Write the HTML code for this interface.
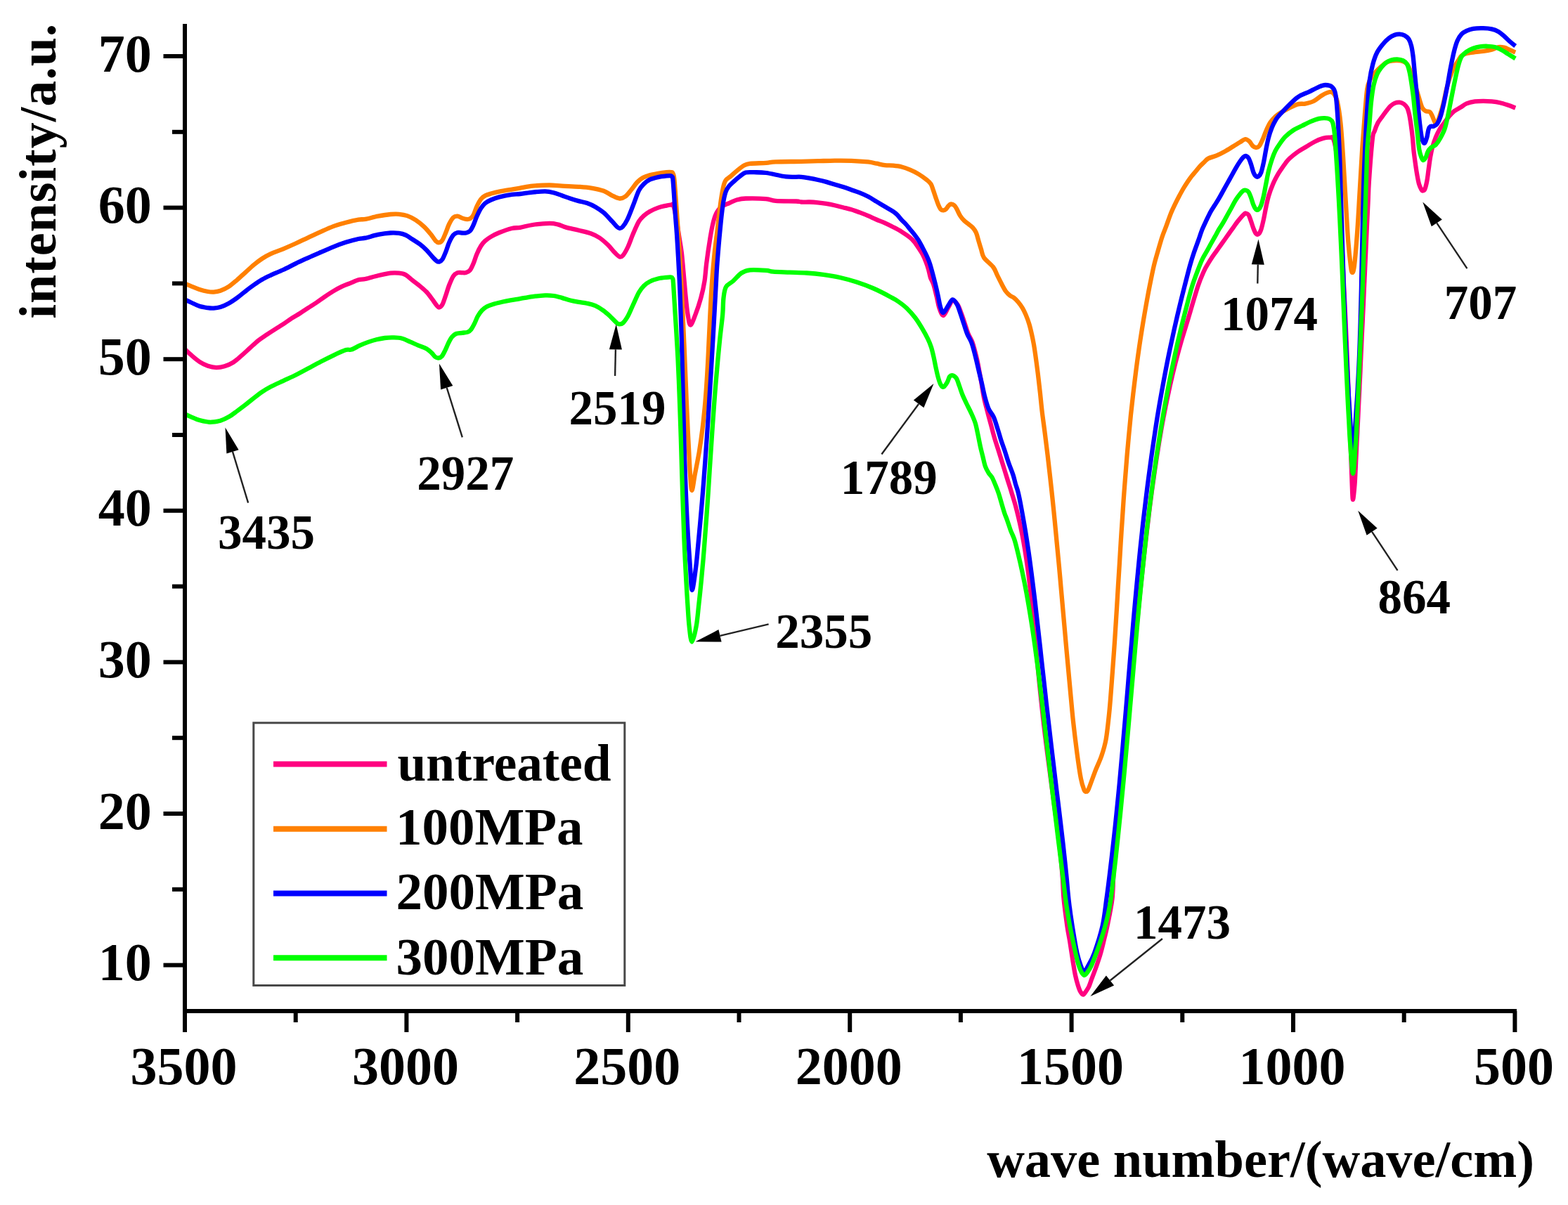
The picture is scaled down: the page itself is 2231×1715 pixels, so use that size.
<!DOCTYPE html>
<html lang="en"><head><meta charset="utf-8"><title>FTIR spectra</title>
<style>html,body{margin:0;padding:0;background:#fff}body{width:2231px;height:1715px;overflow:hidden}svg{display:block}text{font-family:"Liberation Serif","Times New Roman",serif;font-weight:bold;fill:#000}</style></head><body>
<svg xmlns="http://www.w3.org/2000/svg" width="2231" height="1715" viewBox="0 0 2231 1715">
<rect width="2231" height="1715" fill="#fff"/>
<g fill="none" stroke-width="6.3" stroke-linejoin="round" stroke-linecap="butt">
<path stroke="#ff0080" d="M263.0 496.9C264.5 498.3 268.4 502.2 271.9 505.2C275.4 508.2 279.8 512.2 283.8 514.8C287.8 517.4 291.7 519.3 295.7 520.7C299.7 522.1 303.6 523.0 307.6 523.1C311.6 523.2 315.5 522.5 319.5 521.3C323.5 520.1 327.4 518.5 331.4 516.0C335.4 513.5 339.3 509.8 343.3 506.4C347.3 503.0 351.2 499.3 355.2 495.7C359.2 492.1 363.1 488.2 367.1 485.0C371.1 481.8 375.0 479.4 379.0 476.7C383.0 474.0 387.0 471.4 391.0 468.9C395.0 466.3 398.9 464.0 402.9 461.4C406.9 458.8 410.8 455.7 414.8 453.1C418.8 450.5 422.7 448.5 426.7 446.0C430.7 443.5 434.6 440.8 438.6 438.2C442.6 435.6 446.5 433.2 450.5 430.5C454.5 427.8 458.4 424.8 462.4 422.1C466.4 419.4 470.3 416.8 474.3 414.4C478.3 412.0 482.2 409.8 486.2 407.9C490.2 406.0 494.1 404.7 498.1 403.1C502.1 401.5 506.4 399.3 510.0 398.3C513.6 397.3 515.4 398.0 520.0 397.0C524.6 396.0 531.9 393.7 537.9 392.3C543.9 390.9 550.8 389.3 555.7 388.7C560.7 388.1 564.0 388.3 567.6 388.7C571.2 389.1 573.9 389.4 577.1 391.1C580.3 392.8 583.3 396.1 586.7 398.8C590.1 401.5 594.0 404.3 597.4 407.1C600.8 409.9 603.9 412.3 606.9 415.5C609.9 418.7 612.8 423.0 615.2 426.2C617.6 429.4 619.6 432.6 621.2 434.5C622.8 436.4 623.4 437.7 624.8 437.5C626.2 437.3 627.9 436.2 629.5 433.3C631.1 430.4 632.7 424.8 634.3 420.2C635.9 415.6 637.2 410.6 639.0 406.0C640.8 401.4 643.0 395.9 645.0 392.9C647.0 389.9 649.0 388.9 651.0 388.1C653.0 387.3 654.9 388.1 656.9 388.1C658.9 388.1 660.9 388.7 662.9 388.1C664.9 387.5 667.0 386.7 668.8 384.5C670.6 382.3 672.0 378.8 673.6 375.0C675.2 371.2 676.5 366.1 678.3 361.9C680.1 357.7 682.3 353.2 684.3 350.0C686.3 346.8 687.8 345.1 690.2 342.9C692.6 340.7 695.2 338.9 698.6 336.9C702.0 334.9 705.5 333.0 710.5 331.0C715.5 329.0 723.4 326.2 728.3 325.0C733.2 323.8 735.1 324.6 740.0 323.8C744.9 323.0 750.9 321.0 757.9 320.0C764.9 319.0 775.8 318.0 781.7 317.9C787.7 317.8 789.6 318.4 793.6 319.4C797.6 320.3 800.5 322.2 805.5 323.6C810.5 325.0 817.3 326.2 823.3 327.7C829.2 329.2 836.2 330.7 841.2 332.5C846.2 334.3 849.1 335.8 853.1 338.5C857.1 341.2 861.4 345.1 865.0 348.6C868.6 352.1 871.7 356.5 874.5 359.3C877.3 362.1 879.7 364.8 881.7 365.5C883.7 366.2 884.4 365.9 886.4 363.5C888.4 361.1 891.2 356.1 893.6 351.0C896.0 345.9 898.1 339.1 900.7 333.1C903.3 327.1 906.4 319.6 909.0 315.2C911.6 310.8 913.6 309.3 916.2 306.9C918.8 304.5 921.1 302.9 924.5 301.0C927.9 299.1 932.4 297.0 936.4 295.6C940.4 294.2 945.1 293.3 948.3 292.6C951.5 291.9 953.9 291.5 955.5 291.4C957.1 291.3 956.9 288.9 958.0 292.0C959.1 295.1 960.7 302.8 962.0 310.0C963.3 317.2 964.7 326.7 966.0 335.0C967.3 343.3 968.6 349.4 969.9 360.0C971.1 370.6 972.5 388.0 973.5 398.6C974.5 409.2 974.9 415.6 975.8 423.8C976.6 432.0 977.5 441.2 978.6 447.6C979.7 454.1 980.6 462.5 982.4 462.5C984.2 462.5 987.0 454.1 989.5 447.6C992.0 441.2 995.1 431.7 997.3 423.8C999.5 415.9 1001.2 408.2 1002.5 400.0C1003.8 391.8 1003.9 385.0 1005.2 374.8C1006.5 364.6 1008.8 348.9 1010.4 339.0C1012.0 329.1 1013.5 321.4 1015.1 315.2C1016.7 309.0 1018.0 305.5 1020.0 302.0C1022.0 298.5 1024.5 296.0 1027.0 294.0C1029.5 292.0 1031.1 291.8 1034.8 290.2C1038.5 288.6 1044.6 285.6 1049.0 284.3C1053.4 283.0 1054.2 282.7 1061.0 282.5C1067.8 282.3 1082.9 282.5 1090.0 283.1C1097.1 283.7 1096.4 285.3 1103.6 285.9C1110.8 286.5 1126.8 286.2 1132.9 286.5C1139.0 286.8 1136.8 287.3 1140.0 287.5C1143.2 287.7 1147.9 287.4 1151.9 287.5C1155.9 287.6 1159.8 287.9 1163.8 288.3C1167.8 288.7 1171.7 289.2 1175.7 289.9C1179.7 290.6 1183.6 291.4 1187.6 292.3C1191.6 293.2 1195.5 294.2 1199.5 295.2C1203.5 296.2 1207.4 297.0 1211.4 298.2C1215.4 299.4 1219.3 300.9 1223.3 302.4C1227.3 303.9 1231.2 305.4 1235.2 307.1C1239.2 308.8 1243.1 310.8 1247.1 312.5C1251.1 314.2 1255.0 315.5 1259.0 317.3C1263.0 319.1 1267.0 321.1 1271.0 323.2C1275.0 325.3 1278.9 327.3 1282.9 329.8C1286.9 332.3 1291.8 335.7 1294.8 338.1C1297.8 340.5 1298.7 341.6 1300.7 344.0C1302.7 346.4 1304.7 349.4 1306.7 352.4C1308.7 355.4 1310.8 358.5 1312.6 361.9C1314.4 365.3 1316.0 369.0 1317.4 372.6C1318.8 376.2 1319.9 379.5 1321.0 383.3C1322.1 387.1 1322.7 391.6 1323.9 395.2C1325.1 398.8 1326.7 400.2 1328.2 404.8C1329.7 409.4 1331.4 417.1 1332.8 422.7C1334.2 428.3 1334.9 434.1 1336.5 438.5C1338.1 442.9 1340.1 449.2 1342.3 449.0C1344.5 448.8 1347.3 440.5 1349.5 437.0C1351.7 433.5 1353.2 428.6 1355.4 428.0C1357.6 427.4 1360.4 430.5 1362.5 433.6C1364.6 436.7 1366.3 442.1 1368.0 446.7C1369.7 451.3 1371.3 456.2 1372.9 461.0C1374.5 465.8 1375.9 470.8 1377.7 475.2C1379.5 479.6 1382.0 483.1 1383.5 487.1C1385.0 491.1 1385.8 494.6 1387.0 499.0C1388.2 503.4 1389.4 508.3 1390.5 513.3C1391.6 518.3 1392.5 523.5 1393.5 528.8C1394.5 534.1 1395.3 538.8 1396.4 545.0C1397.5 551.2 1398.6 559.2 1400.0 566.0C1401.4 572.8 1403.3 579.4 1405.0 586.0C1406.7 592.6 1408.5 599.3 1410.2 605.5C1411.9 611.7 1413.3 617.5 1415.0 623.3C1416.7 629.0 1418.4 634.0 1420.3 640.0C1422.2 646.0 1424.1 652.3 1426.2 659.0C1428.3 665.7 1430.6 673.2 1432.7 680.0C1434.8 686.8 1437.0 693.3 1439.0 700.0C1441.0 706.7 1442.8 711.5 1445.0 720.0C1447.2 728.5 1450.2 740.7 1452.4 751.1C1454.6 761.5 1456.5 771.8 1458.2 782.2C1459.9 792.6 1461.4 802.9 1462.8 813.3C1464.2 823.7 1465.3 834.0 1466.5 844.4C1467.7 854.8 1468.7 865.2 1469.7 875.6C1470.7 886.0 1471.6 896.3 1472.6 906.7C1473.6 917.1 1474.5 927.4 1475.5 937.8C1476.5 948.2 1477.5 958.5 1478.5 968.9C1479.5 979.3 1480.6 989.6 1481.7 1000.0C1482.8 1010.4 1483.9 1020.7 1485.1 1031.1C1486.3 1041.5 1487.6 1051.8 1488.9 1062.2C1490.2 1072.6 1491.6 1082.9 1493.0 1093.3C1494.4 1103.7 1495.7 1114.0 1497.1 1124.4C1498.5 1134.8 1499.9 1145.2 1501.3 1155.6C1502.7 1166.0 1504.1 1176.3 1505.4 1186.7C1506.7 1197.1 1507.9 1207.4 1509.0 1217.8C1510.1 1228.2 1511.0 1238.5 1511.8 1248.9C1512.6 1259.3 1512.5 1268.5 1513.6 1280.0C1514.7 1291.5 1517.0 1308.0 1518.4 1318.0C1519.8 1328.0 1520.9 1332.0 1522.2 1340.0C1523.5 1348.0 1524.9 1358.0 1526.2 1366.0C1527.5 1374.0 1528.7 1381.9 1530.0 1388.0C1531.3 1394.1 1532.6 1398.7 1533.8 1402.5C1535.0 1406.3 1535.8 1408.8 1537.0 1411.0C1538.2 1413.2 1539.6 1415.8 1541.0 1415.7C1542.4 1415.6 1544.1 1412.5 1545.5 1410.5C1546.9 1408.5 1548.3 1406.5 1549.5 1403.8C1550.7 1401.1 1551.2 1399.1 1552.9 1394.3C1554.7 1389.5 1557.8 1381.5 1560.0 1375.2C1562.2 1368.9 1564.4 1362.6 1566.2 1356.2C1568.0 1349.8 1569.5 1343.4 1571.0 1337.0C1572.5 1330.6 1573.6 1327.5 1575.5 1318.0C1577.4 1308.5 1581.0 1291.4 1582.4 1280.0C1583.8 1268.6 1583.5 1259.7 1584.1 1249.5C1584.7 1239.3 1585.4 1229.1 1586.1 1218.9C1586.8 1208.7 1587.7 1198.6 1588.5 1188.4C1589.3 1178.2 1590.2 1168.0 1591.1 1157.8C1592.0 1147.6 1593.0 1137.5 1593.9 1127.3C1594.9 1117.1 1595.8 1106.9 1596.8 1096.7C1597.8 1086.5 1598.8 1076.4 1599.8 1066.2C1600.8 1056.0 1601.8 1045.8 1602.8 1035.6C1603.8 1025.4 1604.9 1015.3 1605.9 1005.1C1606.9 994.9 1607.9 984.7 1608.9 974.5C1609.9 964.3 1611.0 954.2 1612.0 944.0C1613.0 933.8 1614.1 923.6 1615.1 913.4C1616.1 903.2 1617.2 893.1 1618.2 882.9C1619.2 872.7 1620.2 862.5 1621.3 852.3C1622.3 842.1 1623.4 832.0 1624.5 821.8C1625.6 811.6 1626.7 801.4 1627.8 791.2C1628.9 781.0 1630.1 770.9 1631.3 760.7C1632.5 750.5 1633.7 740.3 1634.9 730.1C1636.2 719.9 1637.4 709.8 1638.8 699.6C1640.2 689.4 1641.6 679.2 1643.1 669.0C1644.6 658.8 1646.2 648.7 1647.8 638.5C1649.4 628.3 1651.1 618.1 1652.9 607.9C1654.7 597.7 1656.7 587.6 1658.7 577.4C1660.8 567.2 1662.9 557.0 1665.2 546.8C1667.5 536.6 1669.9 526.5 1672.5 516.3C1675.1 506.1 1677.9 495.9 1680.8 485.7C1683.7 475.5 1686.2 468.2 1690.1 455.2C1694.0 442.2 1700.6 419.2 1704.4 407.6C1708.2 396.0 1710.7 391.1 1713.1 385.7C1715.5 380.3 1717.0 378.4 1719.0 375.0C1721.0 371.6 1723.0 368.5 1725.0 365.5C1727.0 362.5 1729.0 359.9 1731.0 357.1C1733.0 354.3 1734.9 351.6 1736.9 348.8C1738.9 346.0 1740.9 343.3 1742.9 340.5C1744.9 337.7 1746.8 334.9 1748.8 332.1C1750.8 329.3 1752.8 326.6 1754.8 323.8C1756.8 321.0 1758.7 318.1 1760.7 315.5C1762.7 312.9 1765.1 310.1 1766.7 308.3C1768.3 306.5 1769.3 305.6 1770.2 304.8C1771.1 304.0 1771.3 303.3 1772.3 303.5C1773.3 303.7 1775.1 303.9 1776.4 305.8C1777.7 307.7 1778.8 311.5 1780.0 314.8C1781.2 318.1 1782.4 322.5 1783.6 325.5C1784.8 328.5 1785.9 331.3 1787.1 332.6C1788.3 333.9 1789.5 334.2 1790.7 333.2C1791.9 332.2 1793.1 330.2 1794.3 326.7C1795.5 323.2 1796.7 317.8 1797.9 312.4C1799.1 307.0 1800.2 300.1 1801.4 294.5C1802.6 288.9 1803.4 284.4 1805.0 279.0C1806.6 273.6 1809.0 267.1 1811.0 262.4C1813.0 257.6 1814.9 254.1 1816.9 250.5C1818.9 246.9 1820.9 244.0 1822.9 241.0C1824.9 238.0 1826.8 235.2 1828.8 232.6C1830.8 230.0 1831.8 228.3 1834.8 225.5C1837.8 222.7 1842.7 218.8 1846.7 216.0C1850.7 213.2 1854.6 211.2 1858.6 208.8C1862.6 206.4 1866.5 203.7 1870.5 201.7C1874.5 199.7 1878.8 197.9 1882.4 196.9C1886.0 195.9 1889.4 195.5 1891.9 195.7C1894.4 195.9 1895.5 193.2 1897.3 198.1C1899.1 203.0 1901.3 215.3 1902.5 225.0C1903.7 234.7 1903.7 245.7 1904.3 256.0C1904.9 266.3 1905.4 276.7 1906.0 287.0C1906.6 297.3 1907.2 307.7 1907.7 318.0C1908.2 328.3 1908.8 338.7 1909.3 349.0C1909.8 359.3 1910.3 369.7 1910.8 380.0C1911.3 390.3 1911.8 400.7 1912.3 411.0C1912.8 421.3 1913.3 431.7 1913.8 442.0C1914.3 452.3 1914.8 462.7 1915.2 473.0C1915.7 483.3 1916.1 493.7 1916.5 504.0C1916.9 514.3 1917.4 524.7 1917.8 535.0C1918.2 545.3 1918.6 555.7 1919.0 566.0C1919.4 576.3 1919.8 586.7 1920.2 597.0C1920.6 607.3 1921.0 617.7 1921.4 628.0C1921.8 638.3 1922.2 648.7 1922.6 659.0C1923.0 669.3 1923.3 681.3 1923.7 690.0C1924.1 698.7 1924.4 711.0 1925.0 711.0C1925.6 711.0 1926.8 698.6 1927.5 690.0C1928.2 681.4 1928.6 669.4 1929.1 659.1C1929.6 648.8 1930.1 638.6 1930.6 628.3C1931.1 618.0 1931.6 607.8 1932.1 597.5C1932.6 587.2 1933.1 576.9 1933.6 566.6C1934.1 556.3 1934.6 546.1 1935.1 535.8C1935.6 525.5 1936.0 515.2 1936.5 504.9C1937.0 494.6 1937.4 484.4 1937.9 474.1C1938.4 463.8 1938.9 453.5 1939.4 443.2C1939.9 432.9 1940.3 422.7 1940.8 412.4C1941.3 402.1 1941.7 391.8 1942.2 381.5C1942.7 371.2 1943.1 361.0 1943.6 350.7C1944.1 340.4 1944.5 330.1 1945.0 319.8C1945.5 309.5 1946.0 299.3 1946.5 289.0C1947.0 278.7 1946.9 273.2 1947.9 258.1C1948.9 243.0 1951.4 210.5 1952.7 198.6C1954.0 186.7 1954.4 190.7 1955.7 186.7C1957.0 182.7 1958.7 178.2 1960.5 174.8C1962.3 171.4 1964.4 169.2 1966.4 166.4C1968.4 163.6 1970.4 160.7 1972.4 158.1C1974.4 155.5 1976.3 152.9 1978.3 151.0C1980.3 149.1 1982.1 147.7 1984.3 146.8C1986.5 145.9 1989.2 145.4 1991.4 145.6C1993.6 145.8 1995.6 146.7 1997.4 148.0C1999.2 149.3 2000.8 150.8 2002.1 153.3C2003.4 155.8 2004.2 158.9 2005.1 162.9C2006.0 166.9 2006.7 171.6 2007.5 177.1C2008.3 182.6 2009.3 190.4 2009.9 196.2C2010.5 202.0 2010.7 206.8 2011.2 212.0C2011.7 217.2 2012.3 221.5 2013.1 227.4C2013.9 233.3 2015.1 241.8 2016.1 247.6C2017.1 253.3 2017.9 258.1 2019.0 261.9C2020.1 265.7 2021.7 268.6 2022.6 270.2C2023.5 271.8 2023.6 271.6 2024.4 271.4C2025.2 271.2 2026.4 271.4 2027.4 269.0C2028.4 266.6 2029.5 261.9 2030.4 257.1C2031.3 252.4 2031.9 246.1 2032.7 240.5C2033.5 234.9 2034.2 229.0 2035.1 223.8C2036.0 218.6 2036.8 214.3 2038.1 209.5C2039.4 204.7 2041.1 199.6 2042.9 195.2C2044.7 190.8 2046.8 186.7 2048.8 183.3C2050.8 179.9 2052.6 178.0 2054.8 175.0C2057.0 172.0 2059.5 168.3 2061.9 165.5C2064.3 162.7 2066.2 160.5 2069.0 158.3C2071.8 156.1 2075.7 154.3 2078.6 152.5C2081.5 150.7 2083.4 148.8 2086.7 147.4C2090.0 146.1 2094.6 145.0 2098.6 144.4C2102.6 143.8 2106.5 143.8 2110.5 143.8C2114.5 143.8 2118.4 144.0 2122.4 144.4C2126.4 144.8 2130.3 145.3 2134.3 146.2C2138.3 147.1 2142.5 148.6 2146.2 149.8C2149.8 151.0 2154.5 153.0 2156.2 153.6"/>
<path stroke="#ff8000" d="M263.0 403.7C264.5 404.3 268.4 405.9 271.9 407.3C275.4 408.7 279.8 410.7 283.8 412.0C287.8 413.3 292.3 414.4 295.7 415.0C299.1 415.6 301.0 415.8 304.0 415.6C307.0 415.4 310.0 415.1 313.6 413.8C317.2 412.5 321.5 410.5 325.5 407.9C329.5 405.3 333.4 401.7 337.4 398.3C341.4 394.9 345.3 391.2 349.3 387.6C353.3 384.0 357.2 380.2 361.2 376.9C365.2 373.6 369.1 370.6 373.1 368.0C377.1 365.4 380.0 363.7 385.0 361.4C390.0 359.1 396.9 356.8 402.9 354.3C408.8 351.8 414.8 349.2 420.7 346.5C426.6 343.8 432.7 341.0 438.6 338.2C444.6 335.4 450.4 332.6 456.4 329.9C462.3 327.2 468.4 324.3 474.3 322.1C480.2 319.9 486.2 318.4 492.1 316.8C498.1 315.2 505.4 313.4 510.0 312.6C514.6 311.8 515.4 312.7 520.0 311.9C524.6 311.1 531.9 308.8 537.9 307.7C543.9 306.6 550.8 305.5 555.7 305.0C560.7 304.5 563.6 304.4 567.6 304.8C571.6 305.2 575.5 305.7 579.5 307.1C583.5 308.5 587.4 310.5 591.4 313.1C595.4 315.7 599.7 319.2 603.3 322.6C606.9 326.0 610.1 329.9 612.9 333.3C615.7 336.7 618.0 340.9 620.0 342.9C622.0 344.9 623.2 345.4 624.8 345.2C626.4 345.0 627.9 344.1 629.5 341.7C631.1 339.3 632.7 334.8 634.3 331.0C635.9 327.2 637.2 322.6 639.0 319.0C640.8 315.4 643.0 311.4 645.0 309.5C647.0 307.6 649.0 307.6 651.0 307.7C653.0 307.8 654.9 309.4 656.9 310.1C658.9 310.8 660.9 311.7 662.9 311.9C664.9 312.1 667.0 312.3 668.8 311.3C670.6 310.3 672.0 308.9 673.6 306.0C675.2 303.1 676.5 297.8 678.3 294.0C680.1 290.2 682.3 285.9 684.3 283.3C686.3 280.7 687.8 279.9 690.2 278.6C692.6 277.3 695.2 276.6 698.6 275.6C702.0 274.6 705.5 273.6 710.5 272.6C715.5 271.6 723.4 270.4 728.3 269.6C733.2 268.8 735.1 268.4 740.0 267.6C744.9 266.8 750.9 265.3 757.9 264.6C764.9 263.9 774.8 263.5 781.7 263.5C788.6 263.5 792.6 264.2 799.5 264.6C806.4 265.0 816.3 265.3 823.3 265.8C830.2 266.3 835.2 266.6 841.2 267.6C847.2 268.6 854.0 270.0 859.0 271.8C864.0 273.6 867.2 276.5 871.0 278.3C874.8 280.1 878.5 282.3 881.7 282.5C884.9 282.7 887.2 281.6 890.0 279.5C892.8 277.4 895.5 273.4 898.3 270.0C901.1 266.6 903.9 262.2 906.7 259.3C909.5 256.4 912.0 254.4 915.0 252.7C918.0 251.0 920.9 250.2 924.5 249.2C928.1 248.2 932.4 247.5 936.4 246.8C940.4 246.1 945.2 245.5 948.3 245.2C951.4 244.9 953.4 244.9 954.9 245.1C956.4 245.3 956.5 244.7 957.3 246.5C958.1 248.3 958.5 246.6 959.5 256.0C960.5 265.4 962.0 290.0 963.0 303.0C964.0 316.0 964.5 323.7 965.2 334.0C965.9 344.3 966.6 354.7 967.2 365.0C967.8 375.3 968.4 385.7 969.0 396.0C969.6 406.3 970.1 416.7 970.6 427.0C971.1 437.3 971.5 447.7 972.0 458.0C972.5 468.3 972.9 478.7 973.4 489.0C973.9 499.3 974.3 509.7 974.7 520.0C975.1 530.3 975.6 540.7 976.0 551.0C976.4 561.3 976.8 571.7 977.3 582.0C977.8 592.3 978.2 602.7 978.7 613.0C979.2 623.3 979.8 633.7 980.3 644.0C980.8 654.3 981.3 666.0 982.0 675.0C982.7 684.0 983.4 698.0 984.5 698.0C985.6 698.0 987.1 684.1 988.8 675.0C990.5 665.9 993.0 653.9 994.8 643.4C996.5 632.9 998.0 622.2 999.3 611.7C1000.6 601.2 1001.7 590.6 1002.7 580.1C1003.7 569.6 1004.5 559.0 1005.2 548.5C1005.9 538.0 1006.5 527.3 1007.1 516.8C1007.7 506.2 1008.1 495.8 1008.6 485.2C1009.1 474.6 1009.6 464.1 1010.1 453.5C1010.6 442.9 1011.1 432.4 1011.7 421.9C1012.3 411.4 1013.0 400.9 1013.9 390.3C1014.8 379.8 1015.7 369.2 1016.8 358.6C1017.9 348.1 1019.4 338.2 1020.7 327.0C1022.1 315.8 1023.6 301.3 1024.9 291.4C1026.2 281.5 1027.5 273.4 1028.8 267.6C1030.0 261.9 1030.6 259.7 1032.4 256.9C1034.2 254.1 1036.7 253.4 1039.5 251.0C1042.3 248.6 1045.8 245.2 1049.0 242.6C1052.2 240.0 1055.6 237.1 1058.6 235.5C1061.6 233.9 1061.7 233.5 1066.9 232.9C1072.1 232.3 1083.9 232.3 1090.0 231.9C1096.1 231.5 1095.3 230.7 1103.6 230.3C1111.9 230.0 1130.0 230.0 1140.0 229.8C1150.0 229.6 1155.9 229.4 1163.8 229.2C1171.7 229.0 1179.7 228.7 1187.6 228.6C1195.5 228.5 1203.5 228.5 1211.4 228.8C1219.3 229.1 1229.2 229.8 1235.2 230.4C1241.2 231.1 1243.1 231.9 1247.1 232.7C1251.1 233.5 1255.0 234.6 1259.0 235.1C1263.0 235.6 1267.0 235.3 1271.0 235.7C1275.0 236.1 1278.9 236.5 1282.9 237.5C1286.9 238.5 1290.8 240.0 1294.8 241.7C1298.8 243.4 1302.7 245.2 1306.7 247.6C1310.7 250.0 1315.6 253.6 1318.6 256.0C1321.6 258.4 1322.9 259.3 1324.5 261.9C1326.1 264.5 1326.9 268.0 1328.1 271.4C1329.3 274.8 1330.5 278.7 1331.7 282.1C1332.9 285.5 1334.0 289.0 1335.2 291.7C1336.4 294.4 1337.6 296.9 1338.8 298.2C1340.0 299.5 1341.2 299.5 1342.4 299.4C1343.6 299.3 1344.8 298.7 1346.0 297.6C1347.2 296.5 1348.3 294.1 1349.5 292.9C1350.7 291.7 1351.7 290.6 1353.1 290.5C1354.5 290.4 1356.5 291.1 1357.9 292.3C1359.3 293.5 1360.0 295.1 1361.4 297.6C1362.8 300.1 1364.4 304.3 1366.2 307.1C1368.0 309.9 1370.1 312.3 1372.1 314.3C1374.1 316.3 1376.1 317.4 1378.1 319.0C1380.1 320.6 1382.2 321.8 1384.0 323.8C1385.8 325.8 1387.4 327.8 1388.8 331.0C1390.2 334.2 1391.2 338.9 1392.4 342.9C1393.6 346.9 1394.7 350.8 1396.0 354.8C1397.3 358.8 1397.2 362.5 1400.0 366.7C1402.8 370.9 1409.9 375.8 1413.1 380.0C1416.3 384.2 1417.0 387.9 1419.0 391.9C1421.0 395.9 1423.0 400.0 1425.0 403.8C1427.0 407.6 1429.0 411.7 1431.0 414.5C1433.0 417.3 1434.9 418.9 1436.9 420.5C1438.9 422.1 1440.9 422.4 1442.9 424.0C1444.9 425.6 1446.8 427.6 1448.8 430.0C1450.8 432.4 1453.0 435.3 1454.8 438.3C1456.6 441.3 1457.9 444.1 1459.5 447.9C1461.1 451.7 1462.9 456.4 1464.3 461.0C1465.7 465.6 1466.8 470.4 1467.9 475.2C1469.0 479.9 1469.9 484.5 1470.8 489.5C1471.7 494.5 1472.4 499.4 1473.2 505.0C1474.0 510.6 1474.8 516.9 1475.6 522.9C1476.4 528.9 1477.1 534.5 1477.8 540.7C1478.5 546.9 1479.2 552.6 1480.0 560.0C1480.8 567.4 1481.5 575.6 1482.6 585.0C1483.7 594.4 1485.4 605.9 1486.7 616.4C1488.0 626.9 1489.3 637.4 1490.6 647.9C1491.8 658.4 1493.0 668.8 1494.2 679.3C1495.4 689.8 1496.5 700.2 1497.6 710.7C1498.7 721.2 1499.8 731.6 1500.8 742.1C1501.8 752.6 1502.8 763.1 1503.8 773.6C1504.8 784.1 1505.8 794.5 1506.8 805.0C1507.8 815.5 1508.7 825.9 1509.6 836.4C1510.5 846.9 1511.5 857.4 1512.4 867.9C1513.3 878.4 1514.3 888.8 1515.2 899.3C1516.1 909.8 1517.0 920.2 1518.0 930.7C1519.0 941.2 1519.9 951.6 1520.9 962.1C1521.9 972.6 1522.8 983.1 1523.8 993.6C1524.8 1004.1 1525.4 1012.1 1526.8 1025.0C1528.2 1037.9 1530.5 1057.0 1532.3 1070.8C1534.1 1084.5 1536.1 1098.6 1537.8 1107.5C1539.5 1116.4 1541.2 1120.8 1542.4 1124.0C1543.6 1127.2 1544.1 1126.9 1545.2 1126.7C1546.3 1126.5 1546.7 1127.8 1548.8 1123.1C1550.9 1118.4 1555.0 1106.1 1558.0 1098.3C1561.0 1090.5 1564.5 1083.9 1567.1 1076.3C1569.7 1068.7 1571.8 1062.6 1573.6 1052.5C1575.4 1042.4 1576.9 1027.0 1578.1 1015.8C1579.3 1004.6 1579.9 995.6 1580.7 985.5C1581.5 975.4 1582.2 965.2 1583.0 955.1C1583.8 945.0 1584.5 934.9 1585.2 924.8C1585.9 914.7 1586.6 904.5 1587.2 894.4C1587.8 884.3 1588.5 874.2 1589.1 864.1C1589.7 854.0 1590.3 843.8 1590.9 833.7C1591.5 823.6 1592.2 813.5 1592.8 803.4C1593.4 793.3 1594.0 783.2 1594.6 773.1C1595.2 763.0 1595.9 752.8 1596.6 742.7C1597.3 732.6 1597.9 722.5 1598.6 712.4C1599.3 702.3 1600.1 692.1 1600.9 682.0C1601.7 671.9 1602.5 661.8 1603.3 651.7C1604.1 641.6 1605.1 631.4 1606.0 621.3C1606.9 611.2 1607.9 601.1 1608.9 591.0C1610.0 580.9 1611.1 570.8 1612.3 560.7C1613.5 550.6 1614.7 540.4 1616.0 530.3C1617.3 520.2 1618.6 510.1 1620.1 500.0C1621.5 489.9 1623.1 479.7 1624.7 469.6C1626.3 459.5 1628.0 449.4 1629.8 439.3C1631.6 429.2 1633.4 419.0 1635.4 408.9C1637.4 398.8 1639.7 387.2 1641.7 378.6C1643.7 370.0 1645.6 364.1 1647.6 357.1C1649.6 350.2 1651.6 342.8 1653.6 336.9C1655.6 330.9 1657.5 326.8 1659.5 321.4C1661.5 316.0 1663.5 309.8 1665.5 304.8C1667.5 299.9 1669.4 295.9 1671.4 291.7C1673.4 287.5 1675.4 283.6 1677.4 279.8C1679.4 276.0 1681.3 272.4 1683.3 269.0C1685.3 265.6 1687.3 262.5 1689.3 259.5C1691.3 256.5 1693.2 253.8 1695.2 251.2C1697.2 248.6 1699.2 246.4 1701.2 244.0C1703.2 241.6 1705.1 239.1 1707.1 236.9C1709.1 234.7 1711.1 232.9 1713.1 231.0C1715.1 229.1 1716.0 227.2 1719.0 225.6C1722.0 224.0 1727.0 223.1 1731.0 221.4C1735.0 219.7 1738.9 217.7 1742.9 215.5C1746.9 213.3 1751.2 210.5 1754.8 208.3C1758.4 206.1 1761.5 204.1 1764.3 202.4C1767.1 200.7 1769.5 198.3 1771.7 198.1C1773.9 197.9 1775.8 199.5 1777.6 201.1C1779.4 202.7 1780.8 206.1 1782.4 207.6C1784.0 209.1 1785.5 210.0 1787.1 210.0C1788.7 210.0 1790.3 209.6 1791.9 207.6C1793.5 205.6 1795.1 201.7 1796.7 198.1C1798.3 194.5 1799.6 190.2 1801.4 186.2C1803.2 182.2 1805.2 177.7 1807.4 174.3C1809.6 170.9 1811.9 168.4 1814.5 166.0C1817.1 163.6 1817.8 162.9 1822.9 160.0C1828.0 157.1 1839.5 150.9 1845.2 148.8C1850.9 146.7 1853.1 148.4 1857.1 147.6C1861.1 146.8 1865.0 146.0 1869.0 144.0C1873.0 142.0 1877.2 137.9 1881.0 135.7C1884.8 133.5 1888.9 131.4 1891.7 131.0C1894.5 130.6 1895.8 131.2 1897.6 133.3C1899.4 135.4 1901.0 136.9 1902.6 143.8C1904.2 150.7 1906.0 161.7 1907.4 174.8C1908.8 187.9 1909.8 204.6 1911.0 222.4C1912.2 240.2 1913.3 262.1 1914.5 281.9C1915.7 301.7 1916.9 325.5 1918.1 341.4C1919.3 357.3 1920.7 369.4 1921.7 377.1C1922.7 384.9 1923.1 387.9 1924.0 387.9C1924.9 387.9 1925.9 386.8 1927.1 377.1C1928.3 367.4 1929.9 347.4 1931.2 329.5C1932.5 311.6 1933.6 289.8 1934.8 270.0C1936.0 250.2 1937.1 228.3 1938.3 210.5C1939.5 192.7 1940.8 176.8 1941.9 162.9C1943.1 149.0 1944.0 135.2 1945.2 127.1C1946.4 118.9 1947.6 117.7 1949.2 114.0C1950.8 110.3 1953.1 107.7 1955.1 105.1C1957.1 102.5 1959.1 100.6 1961.1 98.6C1963.1 96.6 1965.1 94.8 1967.0 93.2C1968.9 91.6 1970.3 90.1 1972.4 89.0C1974.5 87.9 1976.9 87.2 1979.5 86.7C1982.1 86.2 1985.1 86.0 1987.9 86.1C1990.7 86.2 1993.8 86.4 1996.2 87.3C1998.6 88.2 2000.3 89.1 2002.1 91.4C2003.9 93.7 2005.3 97.0 2006.9 101.0C2008.5 105.0 2010.1 110.2 2011.7 115.2C2013.3 120.2 2015.0 126.1 2016.4 130.7C2017.8 135.3 2018.8 138.8 2020.0 142.6C2021.2 146.4 2022.2 150.7 2023.6 153.3C2025.0 155.9 2026.5 157.1 2028.3 158.1C2030.1 159.1 2032.7 158.1 2034.3 159.3C2035.9 160.5 2036.7 162.8 2037.9 165.2C2039.1 167.6 2040.3 171.9 2041.4 173.6C2042.5 175.3 2043.3 176.6 2044.4 175.4C2045.5 174.2 2046.5 170.9 2048.0 166.4C2049.5 161.9 2051.6 155.2 2053.3 148.6C2055.0 142.0 2056.5 133.4 2058.1 127.1C2059.7 120.8 2061.1 115.7 2062.9 110.5C2064.7 105.3 2066.8 100.3 2068.8 96.2C2070.8 92.1 2073.0 88.9 2074.8 86.1C2076.6 83.3 2077.5 81.2 2079.5 79.5C2081.5 77.8 2083.5 76.9 2086.7 76.0C2089.9 75.1 2094.6 74.7 2098.6 74.2C2102.6 73.7 2106.5 73.6 2110.5 73.0C2114.5 72.4 2118.8 71.6 2122.4 70.6C2126.0 69.6 2128.9 67.5 2131.9 67.0C2134.9 66.5 2137.4 66.9 2140.2 67.6C2143.0 68.3 2145.9 70.1 2148.6 71.2C2151.3 72.3 2154.9 73.9 2156.2 74.4"/>
<path stroke="#0000ff" d="M263.0 426.3C264.5 427.0 268.4 428.9 271.9 430.5C275.4 432.1 279.8 434.5 283.8 435.8C287.8 437.1 292.3 437.7 295.7 438.2C299.1 438.7 301.0 438.8 304.0 438.6C307.0 438.4 310.0 438.1 313.6 437.0C317.2 435.9 321.5 433.9 325.5 431.7C329.5 429.5 333.4 426.8 337.4 423.9C341.4 421.0 345.3 417.5 349.3 414.4C353.3 411.3 357.2 408.3 361.2 405.5C365.2 402.7 369.1 400.0 373.1 397.7C377.1 395.4 380.0 394.1 385.0 391.8C390.0 389.5 396.9 386.8 402.9 384.0C408.8 381.2 414.8 378.0 420.7 375.1C426.6 372.2 432.7 369.5 438.6 366.8C444.6 364.1 450.4 361.6 456.4 359.0C462.3 356.4 468.4 353.7 474.3 351.3C480.2 348.9 486.2 346.7 492.1 344.8C498.1 342.9 505.4 341.0 510.0 340.0C514.6 339.0 515.4 339.7 520.0 338.7C524.6 337.7 531.9 335.1 537.9 333.9C543.9 332.7 550.8 331.8 555.7 331.5C560.7 331.2 564.0 331.4 567.6 331.9C571.2 332.4 573.9 333.1 577.1 334.5C580.3 335.9 583.3 338.3 586.7 340.5C590.1 342.7 594.0 345.0 597.4 347.6C600.8 350.2 603.9 353.0 606.9 356.0C609.9 359.0 612.8 362.9 615.2 365.5C617.6 368.1 619.6 370.2 621.2 371.4C622.8 372.6 623.4 373.0 624.8 372.6C626.2 372.2 627.9 371.4 629.5 369.0C631.1 366.6 632.7 362.3 634.3 358.3C635.9 354.3 637.2 349.2 639.0 345.2C640.8 341.2 643.0 336.9 645.0 334.5C647.0 332.1 649.0 331.5 651.0 331.0C653.0 330.5 654.9 331.4 656.9 331.5C658.9 331.6 660.9 332.0 662.9 331.5C664.9 331.0 667.0 330.5 668.8 328.6C670.6 326.7 672.0 323.6 673.6 320.2C675.2 316.8 676.5 312.3 678.3 308.3C680.1 304.3 682.3 299.6 684.3 296.4C686.3 293.2 687.8 291.3 690.2 289.3C692.6 287.3 695.2 286.0 698.6 284.5C702.0 283.0 705.5 281.7 710.5 280.4C715.5 279.1 723.4 277.5 728.3 276.8C733.2 276.1 735.1 276.5 740.0 276.0C744.9 275.5 751.9 274.2 757.9 273.6C763.9 273.0 770.8 272.3 775.7 272.4C780.7 272.5 783.6 273.2 787.6 274.2C791.6 275.2 795.5 276.9 799.5 278.3C803.5 279.7 807.4 281.2 811.4 282.5C815.4 283.8 819.3 285.0 823.3 286.1C827.3 287.2 831.2 287.6 835.2 289.0C839.2 290.4 843.1 292.1 847.1 294.4C851.1 296.7 855.0 299.2 859.0 302.7C863.0 306.2 867.8 311.8 871.0 315.2C874.2 318.6 876.3 321.4 878.1 323.0C879.9 324.6 880.4 325.0 881.7 325.0C883.0 325.0 884.0 325.0 885.8 323.0C887.6 321.0 889.9 318.0 892.4 312.9C894.9 307.8 897.9 299.6 900.7 292.6C903.5 285.7 906.4 276.4 909.0 271.2C911.6 266.0 913.6 264.3 916.2 261.7C918.8 259.1 921.1 257.3 924.5 255.7C927.9 254.1 932.4 253.0 936.4 252.1C940.4 251.2 945.3 250.7 948.3 250.4C951.3 250.1 953.0 250.0 954.3 250.2C955.6 250.4 955.7 250.6 956.2 251.8C956.8 253.0 956.9 248.9 957.6 257.5C958.4 266.1 959.8 290.4 960.7 303.3C961.6 316.2 962.4 324.3 963.1 334.8C963.8 345.3 964.4 355.9 965.0 366.4C965.6 376.9 966.2 387.4 966.7 397.9C967.2 408.4 967.6 419.0 968.0 429.5C968.4 440.0 968.8 450.5 969.1 461.0C969.5 471.5 969.8 482.1 970.1 492.6C970.4 503.1 970.6 513.6 970.9 524.1C971.1 534.6 971.4 545.1 971.6 555.6C971.9 566.1 972.1 576.7 972.4 587.2C972.7 597.7 972.9 608.2 973.2 618.7C973.5 629.2 973.7 639.8 974.0 650.3C974.3 660.8 974.7 671.3 975.1 681.8C975.5 692.3 975.9 702.9 976.4 713.4C976.9 723.9 977.3 734.4 977.9 744.9C978.5 755.4 979.1 766.0 979.8 776.5C980.5 787.0 981.2 797.5 982.0 808.0C982.8 818.5 983.4 839.9 984.8 839.8C986.1 839.7 988.7 818.1 990.1 807.6C991.5 797.1 992.2 787.0 993.2 776.7C994.2 766.4 995.2 756.1 996.1 745.8C997.0 735.5 997.9 725.2 998.8 714.9C999.7 704.6 1000.5 694.2 1001.3 683.9C1002.1 673.6 1002.9 663.3 1003.6 653.0C1004.4 642.7 1005.1 632.4 1005.8 622.1C1006.5 611.8 1007.2 601.5 1007.9 591.2C1008.6 580.9 1009.2 570.6 1009.8 560.3C1010.4 550.0 1011.1 539.7 1011.7 529.4C1012.3 519.1 1012.9 508.8 1013.5 498.5C1014.1 488.2 1014.7 477.8 1015.3 467.5C1015.9 457.2 1016.4 446.9 1017.0 436.6C1017.6 426.3 1018.1 416.0 1018.7 405.7C1019.3 395.4 1019.5 387.9 1020.5 374.8C1021.5 361.7 1023.2 341.0 1024.6 327.1C1025.9 313.2 1027.3 300.3 1028.6 291.4C1029.9 282.5 1031.0 278.0 1032.4 273.6C1033.8 269.2 1035.1 267.8 1037.1 265.2C1039.1 262.6 1041.7 260.5 1044.3 258.1C1046.9 255.7 1049.8 253.1 1052.6 251.0C1055.4 248.9 1057.6 246.6 1061.0 245.6C1064.4 244.6 1068.1 245.1 1072.9 245.2C1077.7 245.3 1082.5 245.0 1090.0 246.0C1097.5 247.0 1109.9 250.4 1118.2 251.4C1126.5 252.4 1134.4 251.4 1140.0 251.8C1145.6 252.2 1147.9 252.9 1151.9 253.6C1155.9 254.3 1159.8 255.1 1163.8 256.0C1167.8 256.9 1171.7 257.8 1175.7 258.9C1179.7 260.0 1183.6 261.3 1187.6 262.5C1191.6 263.7 1195.5 264.8 1199.5 266.1C1203.5 267.4 1207.4 268.8 1211.4 270.2C1215.4 271.6 1219.3 272.8 1223.3 274.4C1227.3 276.0 1231.2 277.7 1235.2 279.8C1239.2 281.9 1243.1 284.5 1247.1 286.9C1251.1 289.3 1255.0 291.6 1259.0 294.0C1263.0 296.4 1268.0 299.2 1271.0 301.2C1274.0 303.2 1274.9 304.0 1276.9 306.0C1278.9 308.0 1280.9 310.9 1282.9 313.1C1284.9 315.3 1286.8 316.8 1288.8 319.0C1290.8 321.2 1292.8 323.8 1294.8 326.2C1296.8 328.6 1298.7 330.7 1300.7 333.3C1302.7 335.9 1304.7 338.5 1306.7 341.7C1308.7 344.9 1310.6 348.6 1312.6 352.4C1314.6 356.2 1316.8 360.3 1318.6 364.3C1320.4 368.3 1321.3 369.6 1323.3 376.2C1325.3 382.8 1328.8 396.2 1330.7 403.8C1332.6 411.4 1333.6 416.1 1334.8 421.7C1336.0 427.2 1336.8 433.2 1338.1 437.1C1339.3 441.0 1340.3 445.5 1342.3 444.9C1344.3 444.3 1347.8 436.7 1350.0 433.6C1352.2 430.5 1353.4 426.4 1355.4 426.4C1357.4 426.4 1360.0 430.2 1361.9 433.6C1363.8 437.0 1365.1 442.1 1366.7 446.7C1368.3 451.3 1369.8 456.2 1371.4 461.0C1373.0 465.8 1374.4 470.8 1376.2 475.2C1378.0 479.6 1380.5 483.1 1382.1 487.1C1383.7 491.1 1384.5 494.6 1385.7 499.0C1386.9 503.4 1388.1 508.3 1389.3 513.3C1390.5 518.3 1391.7 523.8 1392.9 528.8C1394.1 533.8 1395.1 537.3 1396.4 543.1C1397.8 548.9 1399.3 557.4 1401.0 563.8C1402.7 570.2 1404.4 576.5 1406.5 581.5C1408.6 586.5 1411.6 588.6 1413.8 593.6C1416.0 598.6 1418.0 605.8 1419.8 611.4C1421.6 617.0 1422.9 622.1 1424.5 627.0C1426.1 631.9 1427.6 635.7 1429.4 641.0C1431.2 646.3 1433.2 653.2 1435.2 659.0C1437.2 664.8 1439.9 671.0 1441.5 676.0C1443.1 681.0 1443.8 684.8 1445.0 689.0C1446.2 693.2 1447.4 695.5 1448.7 701.0C1450.0 706.5 1451.4 713.3 1453.0 722.0C1454.6 730.7 1456.8 742.7 1458.5 753.0C1460.2 763.3 1461.8 773.7 1463.3 784.0C1464.8 794.3 1466.2 804.7 1467.5 815.0C1468.8 825.3 1470.2 835.7 1471.4 846.0C1472.7 856.3 1473.8 866.7 1475.0 877.0C1476.2 887.3 1477.3 897.7 1478.5 908.0C1479.7 918.3 1480.8 928.7 1481.9 939.0C1483.1 949.3 1484.2 959.7 1485.4 970.0C1486.6 980.3 1487.6 990.7 1488.8 1001.0C1490.0 1011.3 1491.2 1021.7 1492.4 1032.0C1493.6 1042.3 1494.8 1052.7 1496.0 1063.0C1497.2 1073.3 1498.5 1083.7 1499.7 1094.0C1500.9 1104.3 1502.2 1114.7 1503.4 1125.0C1504.7 1135.3 1506.0 1145.7 1507.2 1156.0C1508.5 1166.3 1509.7 1176.7 1510.9 1187.0C1512.1 1197.3 1513.3 1207.7 1514.4 1218.0C1515.5 1228.3 1516.6 1238.7 1517.6 1249.0C1518.6 1259.3 1519.2 1268.5 1520.5 1280.0C1521.8 1291.5 1523.7 1305.3 1525.7 1318.0C1527.7 1330.7 1530.4 1346.7 1532.4 1356.2C1534.5 1365.7 1536.3 1370.5 1538.0 1375.0C1539.7 1379.5 1540.7 1383.0 1542.4 1383.0C1544.1 1383.0 1545.5 1379.5 1548.0 1375.0C1550.5 1370.5 1553.7 1365.7 1557.1 1356.2C1560.5 1346.7 1565.7 1330.7 1568.6 1318.0C1571.5 1305.3 1572.7 1291.3 1574.3 1280.0C1575.9 1268.7 1577.0 1259.9 1578.2 1249.9C1579.5 1239.9 1580.6 1229.8 1581.8 1219.8C1583.0 1209.8 1584.1 1199.8 1585.2 1189.8C1586.3 1179.8 1587.4 1169.7 1588.4 1159.7C1589.4 1149.7 1590.4 1139.6 1591.4 1129.6C1592.4 1119.6 1593.3 1109.5 1594.2 1099.5C1595.1 1089.5 1596.0 1079.4 1596.9 1069.4C1597.8 1059.4 1598.6 1049.3 1599.5 1039.3C1600.4 1029.3 1601.2 1019.3 1602.1 1009.3C1602.9 999.3 1603.8 989.2 1604.6 979.2C1605.4 969.2 1606.2 959.1 1607.1 949.1C1607.9 939.1 1608.8 929.0 1609.7 919.0C1610.6 909.0 1611.3 898.9 1612.2 888.9C1613.1 878.9 1614.0 868.8 1614.9 858.8C1615.8 848.8 1616.8 838.8 1617.7 828.8C1618.7 818.8 1619.6 808.7 1620.6 798.7C1621.6 788.7 1622.6 778.6 1623.7 768.6C1624.8 758.6 1625.8 748.5 1627.0 738.5C1628.2 728.5 1629.4 718.4 1630.6 708.4C1631.8 698.4 1633.1 688.3 1634.4 678.3C1635.7 668.3 1637.1 658.3 1638.5 648.3C1639.9 638.3 1641.4 628.2 1642.9 618.2C1644.4 608.2 1645.9 598.1 1647.6 588.1C1649.2 578.1 1651.0 568.0 1652.8 558.0C1654.6 548.0 1656.5 537.9 1658.4 527.9C1660.3 517.9 1662.3 507.8 1664.4 497.8C1666.5 487.8 1668.7 477.8 1670.9 467.8C1673.2 457.8 1675.5 447.7 1677.9 437.7C1680.3 427.7 1682.9 417.5 1685.4 407.6C1687.9 397.8 1690.7 386.6 1692.9 378.6C1695.1 370.6 1696.8 365.4 1698.8 359.5C1700.8 353.6 1702.8 348.4 1704.8 342.9C1706.8 337.3 1708.7 331.2 1710.7 326.2C1712.7 321.2 1714.7 317.3 1716.7 313.1C1718.7 308.9 1720.6 304.8 1722.6 301.2C1724.6 297.6 1726.6 294.9 1728.6 291.7C1730.6 288.5 1732.5 285.5 1734.5 282.1C1736.5 278.7 1738.5 275.0 1740.5 271.4C1742.5 267.8 1744.4 264.3 1746.4 260.7C1748.4 257.1 1750.4 253.6 1752.4 250.0C1754.4 246.4 1756.3 242.7 1758.3 239.3C1760.3 235.9 1762.5 232.4 1764.3 229.8C1766.1 227.2 1767.7 225.1 1769.0 223.8C1770.3 222.5 1771.1 221.7 1772.3 221.9C1773.5 222.1 1775.1 222.9 1776.4 224.9C1777.7 226.9 1778.8 230.3 1780.0 233.8C1781.2 237.3 1782.4 242.8 1783.6 245.7C1784.8 248.6 1785.9 250.2 1787.1 251.1C1788.3 252.0 1789.5 252.0 1790.7 251.1C1791.9 250.2 1793.1 249.0 1794.3 245.7C1795.5 242.4 1796.7 236.9 1797.9 231.4C1799.1 225.9 1800.2 218.4 1801.4 212.4C1802.6 206.4 1803.6 200.9 1805.0 195.7C1806.4 190.5 1808.2 185.4 1809.8 181.4C1811.4 177.4 1812.7 174.9 1814.5 171.9C1816.3 168.9 1815.4 169.0 1820.5 163.6C1825.6 158.2 1838.3 144.7 1845.2 139.3C1852.1 133.9 1856.7 133.6 1861.9 131.0C1867.1 128.4 1872.2 125.5 1876.2 123.8C1880.2 122.1 1882.5 121.0 1885.7 121.0C1888.9 121.0 1892.7 121.3 1895.2 123.8C1897.7 126.2 1899.1 127.8 1900.5 135.7C1901.9 143.6 1902.7 157.5 1903.6 171.4C1904.5 185.3 1905.4 206.1 1906.0 219.0C1906.6 231.9 1906.7 239.1 1907.0 249.1C1907.3 259.1 1907.6 269.2 1907.9 279.2C1908.2 289.2 1908.5 299.2 1908.8 309.2C1909.1 319.2 1909.4 329.3 1909.7 339.3C1910.0 349.3 1910.4 359.4 1910.7 369.4C1911.0 379.4 1911.3 389.5 1911.6 399.5C1911.9 409.5 1912.3 419.6 1912.7 429.6C1913.1 439.6 1913.4 449.7 1913.8 459.7C1914.2 469.7 1914.6 479.8 1915.1 489.8C1915.6 499.8 1916.1 509.8 1916.6 519.8C1917.1 529.8 1917.6 539.9 1918.2 549.9C1918.8 559.9 1918.9 564.8 1920.0 580.0C1921.1 595.2 1923.3 641.0 1925.0 641.0C1926.7 641.0 1928.8 595.3 1930.0 580.0C1931.2 564.7 1931.3 559.6 1931.9 549.4C1932.5 539.2 1933.0 528.9 1933.5 518.7C1934.0 508.5 1934.3 498.3 1934.7 488.1C1935.1 477.9 1935.4 467.6 1935.7 457.4C1936.0 447.2 1936.2 437.0 1936.5 426.8C1936.8 416.6 1937.0 406.3 1937.2 396.1C1937.4 385.9 1937.6 375.7 1937.8 365.5C1938.0 355.3 1938.3 345.1 1938.5 334.9C1938.7 324.7 1938.9 314.4 1939.1 304.2C1939.3 294.0 1939.6 283.8 1939.9 273.6C1940.2 263.4 1940.5 253.1 1940.9 242.9C1941.3 232.7 1941.7 222.5 1942.2 212.3C1942.7 202.1 1943.1 191.8 1943.7 181.6C1944.3 171.4 1944.8 162.1 1945.6 151.0C1946.4 139.9 1947.3 125.1 1948.6 115.2C1949.9 105.3 1951.5 98.1 1953.3 91.4C1955.1 84.7 1956.9 79.5 1959.3 74.8C1961.7 70.0 1964.8 66.3 1967.6 62.9C1970.4 59.5 1973.2 56.7 1976.0 54.5C1978.8 52.3 1981.7 50.8 1984.3 49.8C1986.9 48.8 1989.0 48.5 1991.4 48.6C1993.8 48.7 1996.4 49.2 1998.6 50.4C2000.8 51.6 2002.9 53.2 2004.5 55.7C2006.1 58.2 2007.1 61.2 2008.1 65.2C2009.1 69.2 2009.8 74.1 2010.5 79.5C2011.2 84.9 2011.7 91.5 2012.3 97.4C2012.9 103.4 2013.4 109.2 2014.0 115.2C2014.6 121.2 2015.2 127.1 2015.8 133.1C2016.4 139.1 2016.9 144.1 2017.6 151.0C2018.3 157.9 2019.1 167.3 2020.0 174.8C2020.9 182.3 2021.9 191.3 2023.0 196.2C2024.1 201.0 2025.3 203.9 2026.5 203.9C2027.7 203.9 2029.1 199.5 2030.1 196.2C2031.1 192.9 2031.7 187.0 2032.5 184.3C2033.3 181.6 2033.6 180.9 2034.9 180.1C2036.2 179.3 2038.5 180.2 2040.2 179.5C2041.9 178.8 2043.4 178.4 2045.0 176.0C2046.6 173.6 2048.2 170.2 2049.8 165.2C2051.4 160.2 2052.9 153.3 2054.5 146.2C2056.1 139.1 2057.7 130.7 2059.3 122.4C2060.9 114.1 2062.4 104.3 2064.0 96.2C2065.6 88.1 2067.2 79.9 2068.8 73.6C2070.4 67.2 2071.8 62.3 2073.6 58.1C2075.4 53.9 2077.3 51.0 2079.5 48.6C2081.7 46.2 2083.9 45.1 2086.7 43.8C2089.5 42.5 2092.2 41.4 2096.2 40.8C2100.2 40.2 2106.1 40.1 2110.5 40.2C2114.9 40.3 2118.8 40.6 2122.4 41.4C2126.0 42.2 2128.9 43.3 2131.9 45.0C2134.9 46.7 2137.4 49.1 2140.2 51.5C2143.0 53.9 2145.9 57.0 2148.6 59.3C2151.3 61.6 2154.9 64.5 2156.2 65.5"/>
<path stroke="#00ff00" d="M263.0 589.2C264.5 589.9 268.4 591.8 271.9 593.3C275.4 594.8 279.8 596.9 283.8 598.1C287.8 599.3 292.7 600.1 295.7 600.5C298.7 600.9 298.7 601.0 301.7 600.7C304.7 600.4 309.6 599.9 313.6 598.7C317.6 597.5 321.5 595.6 325.5 593.3C329.5 591.0 333.4 587.9 337.4 585.0C341.4 582.1 345.3 579.2 349.3 576.1C353.3 573.0 357.2 569.6 361.2 566.5C365.2 563.4 369.1 560.3 373.1 557.6C377.1 554.9 380.0 553.1 385.0 550.5C390.0 547.9 396.9 544.9 402.9 542.1C408.8 539.3 414.8 536.8 420.7 533.8C426.6 530.8 432.7 527.5 438.6 524.3C444.6 521.1 450.4 517.9 456.4 514.8C462.3 511.7 468.4 508.6 474.3 505.8C480.2 503.0 487.8 499.5 492.1 498.1C496.4 496.7 496.7 498.7 500.0 497.6C503.3 496.5 507.9 493.5 511.9 491.7C515.9 489.9 519.8 488.3 523.8 486.9C527.8 485.5 531.7 484.3 535.7 483.3C539.7 482.3 543.6 481.5 547.6 481.0C551.6 480.5 555.5 480.3 559.5 480.4C563.5 480.5 567.4 480.5 571.4 481.5C575.4 482.5 579.3 484.6 583.3 486.3C587.3 488.0 591.2 490.0 595.2 491.7C599.2 493.4 603.9 494.6 607.1 496.4C610.3 498.2 612.3 500.5 614.3 502.4C616.3 504.3 617.4 506.5 619.0 507.7C620.6 508.9 622.2 509.6 623.8 509.5C625.4 509.4 627.0 508.9 628.6 507.1C630.2 505.3 631.7 502.0 633.3 498.8C634.9 495.6 636.5 491.3 638.1 488.1C639.7 484.9 641.1 482.0 642.9 479.8C644.7 477.6 646.4 476.0 648.8 475.0C651.2 474.0 654.3 474.2 657.1 473.8C659.9 473.4 663.3 473.4 665.5 472.6C667.7 471.8 668.6 471.0 670.2 469.0C671.8 467.0 673.4 463.9 675.0 460.7C676.6 457.5 678.0 453.2 679.8 450.0C681.6 446.8 683.5 444.0 685.7 441.7C687.9 439.4 690.1 437.8 692.9 436.3C695.7 434.8 698.8 433.8 702.4 432.7C706.0 431.6 710.3 430.7 714.3 429.8C718.3 428.9 721.9 428.2 726.2 427.4C730.5 426.6 734.7 426.0 740.0 425.1C745.3 424.2 751.9 422.9 757.9 422.1C763.9 421.3 770.8 420.6 775.7 420.4C780.7 420.2 783.6 420.4 787.6 421.0C791.6 421.6 795.5 422.8 799.5 423.9C803.5 425.0 807.4 426.5 811.4 427.5C815.4 428.5 819.3 429.2 823.3 429.9C827.3 430.6 831.2 430.8 835.2 431.7C839.2 432.6 843.1 433.4 847.1 435.2C851.1 437.0 855.4 439.8 859.0 442.4C862.6 445.0 865.6 447.9 868.6 450.7C871.6 453.5 874.8 457.2 876.9 459.0C879.0 460.8 879.5 461.3 881.1 461.4C882.7 461.5 884.3 461.6 886.4 459.6C888.5 457.6 891.2 453.8 893.6 449.5C896.0 445.2 898.1 439.6 900.7 434.0C903.3 428.4 906.4 420.8 909.0 416.2C911.6 411.6 913.6 409.3 916.2 406.7C918.8 404.1 921.1 402.4 924.5 400.7C927.9 399.0 932.4 397.5 936.4 396.5C940.4 395.5 945.2 395.1 948.3 394.8C951.4 394.5 953.5 394.3 954.9 394.5C956.3 394.7 956.3 394.6 956.8 396.0C957.3 397.4 957.4 394.4 958.0 403.0C958.6 411.6 959.9 434.9 960.7 447.6C961.5 460.3 962.1 468.8 962.7 479.3C963.3 489.9 964.0 500.3 964.5 510.9C965.0 521.4 965.5 532.0 965.9 542.6C966.3 553.2 966.7 563.7 967.1 574.3C967.5 584.9 967.9 595.5 968.2 606.0C968.6 616.5 968.9 627.1 969.2 637.6C969.5 648.1 969.8 658.7 970.1 669.3C970.4 679.9 970.8 690.5 971.1 701.0C971.5 711.5 971.8 722.1 972.2 732.6C972.6 743.1 972.9 753.7 973.3 764.3C973.7 774.9 974.2 785.4 974.7 796.0C975.2 806.6 975.8 817.2 976.4 827.7C977.0 838.2 977.6 848.8 978.3 859.3C979.0 869.8 979.6 882.0 980.6 891.0C981.6 900.0 982.8 913.6 984.5 913.6C986.2 913.6 989.1 900.0 990.7 891.0C992.4 882.0 993.2 869.8 994.4 859.3C995.6 848.8 996.7 838.2 997.7 827.7C998.7 817.2 999.7 806.6 1000.6 796.0C1001.5 785.4 1002.3 774.9 1003.1 764.3C1003.9 753.7 1004.7 743.1 1005.5 732.6C1006.3 722.1 1007.0 711.5 1007.7 701.0C1008.4 690.5 1009.0 679.9 1009.7 669.3C1010.4 658.7 1011.1 648.1 1011.8 637.6C1012.5 627.1 1013.2 616.5 1013.9 606.0C1014.6 595.5 1015.4 584.9 1016.2 574.3C1017.0 563.7 1017.8 553.2 1018.7 542.6C1019.6 532.0 1020.5 521.4 1021.5 510.9C1022.5 500.3 1023.5 489.9 1024.6 479.3C1025.7 468.8 1027.4 456.8 1028.2 447.6C1029.0 438.4 1028.7 430.6 1029.5 424.0C1030.3 417.4 1030.7 412.2 1033.0 408.2C1035.3 404.2 1039.4 403.3 1043.1 400.0C1046.8 396.7 1051.0 391.1 1055.0 388.5C1059.0 385.9 1061.1 384.9 1066.9 384.3C1072.7 383.7 1084.5 384.5 1090.0 384.9C1095.5 385.3 1094.4 386.2 1100.0 386.7C1105.6 387.1 1115.9 387.3 1123.8 387.6C1131.7 387.9 1139.7 388.0 1147.6 388.5C1155.5 389.0 1163.5 389.7 1171.4 390.8C1179.3 391.9 1187.3 393.2 1195.2 395.0C1203.1 396.8 1211.0 398.9 1219.0 401.5C1227.0 404.1 1235.0 407.0 1242.9 410.5C1250.9 414.0 1260.8 419.2 1266.7 422.4C1272.7 425.6 1274.6 426.7 1278.6 429.5C1282.6 432.3 1286.6 435.2 1290.5 439.0C1294.4 442.8 1298.4 447.3 1302.0 452.0C1305.6 456.7 1308.9 462.1 1311.9 467.2C1314.9 472.3 1318.0 477.9 1320.2 482.4C1322.4 486.9 1323.6 489.9 1325.0 494.3C1326.4 498.7 1327.5 503.8 1328.6 508.6C1329.7 513.4 1330.5 518.3 1331.5 522.9C1332.5 527.5 1333.4 532.0 1334.5 536.0C1335.6 540.0 1336.8 544.2 1338.1 546.7C1339.4 549.2 1340.7 551.2 1342.3 550.8C1343.9 550.4 1346.1 546.8 1347.6 544.3C1349.1 541.8 1349.9 537.7 1351.2 536.0C1352.5 534.3 1353.8 533.8 1355.4 534.2C1357.0 534.6 1359.1 535.8 1360.7 538.3C1362.3 540.8 1363.4 545.0 1364.9 549.0C1366.4 553.0 1367.8 557.8 1369.5 562.0C1371.2 566.2 1373.0 569.7 1375.0 574.0C1377.0 578.3 1379.6 583.0 1381.7 587.6C1383.8 592.2 1386.0 596.9 1387.6 601.9C1389.2 606.9 1390.0 611.8 1391.2 617.4C1392.4 623.0 1393.6 629.9 1394.8 635.2C1396.0 640.6 1397.1 644.7 1398.3 649.5C1399.5 654.3 1400.5 659.8 1401.9 663.8C1403.3 667.8 1405.1 670.7 1406.7 673.3C1408.3 675.9 1409.8 676.5 1411.4 679.3C1413.0 682.1 1414.6 686.2 1416.2 690.0C1417.8 693.8 1419.2 697.2 1420.8 702.0C1422.4 706.8 1424.3 713.9 1425.7 718.6C1427.1 723.4 1428.1 726.9 1429.3 730.5C1430.5 734.1 1431.5 735.9 1432.9 740.0C1434.4 744.1 1436.2 750.0 1438.0 755.0C1439.8 760.0 1441.8 762.5 1444.0 770.0C1446.2 777.5 1449.1 790.0 1451.4 800.0C1453.7 810.0 1455.8 820.0 1457.8 830.0C1459.8 840.0 1461.6 850.0 1463.3 860.0C1465.0 870.0 1466.7 880.0 1468.2 890.0C1469.8 900.0 1471.2 910.0 1472.6 920.0C1474.0 930.0 1475.3 940.0 1476.6 950.0C1477.9 960.0 1479.1 970.0 1480.3 980.0C1481.5 990.0 1482.7 1000.0 1483.9 1010.0C1485.1 1020.0 1486.2 1030.0 1487.3 1040.0C1488.4 1050.0 1489.6 1060.0 1490.8 1070.0C1492.0 1080.0 1493.1 1090.0 1494.3 1100.0C1495.5 1110.0 1496.6 1120.0 1497.8 1130.0C1499.0 1140.0 1500.3 1150.0 1501.5 1160.0C1502.7 1170.0 1503.9 1180.0 1505.1 1190.0C1506.3 1200.0 1507.7 1210.0 1508.9 1220.0C1510.2 1230.0 1511.4 1240.0 1512.6 1250.0C1513.8 1260.0 1515.1 1271.8 1516.2 1280.0C1517.3 1288.2 1518.0 1292.7 1519.0 1299.0C1520.0 1305.3 1521.1 1311.7 1522.3 1318.0C1523.5 1324.3 1524.9 1330.6 1526.2 1337.0C1527.5 1343.4 1528.8 1349.8 1530.3 1356.2C1531.8 1362.6 1533.8 1370.6 1535.2 1375.2C1536.7 1379.8 1537.7 1381.9 1539.0 1384.0C1540.3 1386.1 1541.6 1388.0 1542.9 1388.0C1544.2 1388.0 1545.4 1386.1 1547.0 1384.0C1548.6 1381.9 1550.2 1379.8 1552.4 1375.2C1554.6 1370.6 1557.6 1362.6 1560.0 1356.2C1562.4 1349.8 1564.6 1343.4 1566.7 1337.0C1568.8 1330.6 1570.7 1324.3 1572.4 1318.0C1574.1 1311.7 1575.8 1305.3 1577.1 1299.0C1578.4 1292.7 1579.3 1288.2 1580.5 1280.0C1581.7 1271.8 1582.9 1259.9 1584.1 1249.9C1585.3 1239.9 1586.5 1229.8 1587.6 1219.8C1588.7 1209.8 1589.8 1199.8 1590.8 1189.8C1591.8 1179.8 1592.9 1169.7 1593.9 1159.7C1594.9 1149.7 1595.8 1139.6 1596.8 1129.6C1597.8 1119.6 1598.8 1109.5 1599.7 1099.5C1600.6 1089.5 1601.5 1079.4 1602.4 1069.4C1603.3 1059.4 1604.2 1049.3 1605.1 1039.3C1606.0 1029.3 1606.8 1019.3 1607.7 1009.3C1608.6 999.3 1609.4 989.2 1610.3 979.2C1611.2 969.2 1612.0 959.1 1612.9 949.1C1613.8 939.1 1614.6 929.0 1615.5 919.0C1616.4 909.0 1617.3 898.9 1618.2 888.9C1619.1 878.9 1620.0 868.8 1621.0 858.8C1622.0 848.8 1622.9 838.8 1623.9 828.8C1624.9 818.8 1626.0 808.7 1627.0 798.7C1628.0 788.7 1629.1 778.6 1630.2 768.6C1631.3 758.6 1632.5 748.5 1633.7 738.5C1634.9 728.5 1636.1 718.4 1637.4 708.4C1638.7 698.4 1640.0 688.3 1641.4 678.3C1642.8 668.3 1644.2 658.3 1645.7 648.3C1647.2 638.3 1648.8 628.2 1650.4 618.2C1652.0 608.2 1653.7 598.1 1655.4 588.1C1657.2 578.1 1659.0 568.0 1660.9 558.0C1662.8 548.0 1664.8 537.9 1666.9 527.9C1669.0 517.9 1671.1 507.8 1673.3 497.8C1675.5 487.8 1677.9 477.8 1680.3 467.8C1682.7 457.8 1685.3 447.7 1687.9 437.7C1690.5 427.7 1693.3 416.7 1696.1 407.6C1698.9 398.5 1702.4 389.7 1704.8 383.3C1707.2 376.9 1708.7 373.2 1710.7 369.0C1712.7 364.8 1714.7 361.9 1716.7 358.3C1718.7 354.7 1720.6 351.2 1722.6 347.6C1724.6 344.0 1726.6 340.5 1728.6 336.9C1730.6 333.3 1732.5 329.6 1734.5 326.2C1736.5 322.8 1738.5 320.1 1740.5 316.7C1742.5 313.3 1744.4 309.6 1746.4 306.0C1748.4 302.4 1750.4 298.8 1752.4 295.2C1754.4 291.6 1756.3 287.7 1758.3 284.5C1760.3 281.3 1762.5 278.4 1764.3 276.2C1766.1 274.0 1767.7 272.3 1769.0 271.4C1770.3 270.5 1771.1 270.4 1772.3 270.7C1773.5 271.0 1775.1 271.3 1776.4 273.1C1777.7 274.9 1778.8 278.2 1780.0 281.4C1781.2 284.6 1782.4 289.3 1783.6 292.1C1784.8 294.9 1785.9 297.1 1787.1 298.1C1788.3 299.1 1789.5 299.1 1790.7 298.1C1791.9 297.1 1793.1 295.3 1794.3 292.1C1795.5 288.9 1796.7 284.1 1797.9 279.0C1799.1 273.9 1800.2 267.1 1801.4 261.2C1802.6 255.2 1803.6 249.1 1805.0 243.3C1806.4 237.6 1808.2 231.4 1809.8 226.7C1811.4 221.9 1812.7 218.4 1814.5 214.8C1816.3 211.2 1818.1 208.6 1820.5 205.2C1822.9 201.8 1825.4 197.9 1828.8 194.5C1832.2 191.1 1836.7 187.6 1840.7 185.0C1844.7 182.4 1848.6 181.0 1852.6 179.0C1856.6 177.0 1860.5 174.8 1864.5 173.1C1868.5 171.4 1873.0 169.7 1876.4 168.9C1879.8 168.1 1882.2 168.0 1884.8 168.1C1887.4 168.2 1890.0 168.5 1891.9 169.5C1893.8 170.5 1894.9 170.9 1896.1 174.3C1897.2 177.7 1898.0 182.3 1898.8 189.8C1899.6 197.3 1900.3 209.3 1901.0 219.5C1901.7 229.7 1902.4 240.6 1903.0 251.1C1903.6 261.6 1904.2 272.2 1904.8 282.7C1905.4 293.2 1905.9 303.7 1906.4 314.2C1906.9 324.7 1907.4 335.3 1907.9 345.8C1908.4 356.3 1908.8 366.9 1909.3 377.4C1909.8 387.9 1910.2 398.5 1910.6 409.0C1911.0 419.5 1911.5 430.0 1911.9 440.5C1912.3 451.0 1912.8 461.6 1913.2 472.1C1913.7 482.6 1914.1 493.2 1914.6 503.7C1915.1 514.2 1915.5 524.8 1916.0 535.3C1916.5 545.8 1917.0 556.3 1917.5 566.8C1918.0 577.3 1918.6 587.9 1919.2 598.4C1919.8 608.9 1920.0 617.4 1921.0 630.0C1922.0 642.6 1923.7 674.0 1925.0 674.0C1926.3 674.0 1928.0 642.7 1929.0 630.0C1930.0 617.3 1930.2 608.5 1930.7 597.7C1931.2 587.0 1931.8 576.2 1932.3 565.5C1932.8 554.8 1933.2 544.0 1933.7 533.2C1934.2 522.4 1934.6 511.6 1935.1 500.9C1935.5 490.1 1936.0 479.4 1936.4 468.7C1936.8 457.9 1937.3 447.2 1937.7 436.4C1938.1 425.6 1938.5 414.9 1938.9 404.1C1939.3 393.3 1939.6 382.6 1940.0 371.8C1940.4 361.1 1940.7 350.4 1941.1 339.6C1941.5 328.9 1941.8 318.1 1942.2 307.3C1942.6 296.5 1942.9 285.8 1943.3 275.0C1943.7 264.2 1944.0 253.6 1944.4 242.8C1944.8 232.1 1944.8 221.8 1945.5 210.5C1946.2 199.2 1947.7 185.7 1948.6 174.8C1949.5 163.9 1950.0 153.9 1951.0 145.0C1952.0 136.1 1953.1 127.8 1954.5 121.2C1955.9 114.7 1957.5 109.9 1959.3 105.7C1961.1 101.5 1963.0 99.0 1965.2 96.2C1967.4 93.4 1970.0 90.8 1972.4 89.0C1974.8 87.2 1976.9 86.3 1979.5 85.5C1982.1 84.7 1985.1 84.2 1987.9 84.3C1990.7 84.4 1993.8 84.9 1996.2 86.1C1998.6 87.3 2000.5 88.5 2002.1 91.4C2003.7 94.3 2004.6 98.3 2005.7 103.3C2006.8 108.3 2007.8 115.2 2008.7 121.2C2009.6 127.2 2010.3 132.1 2011.1 139.0C2011.9 145.9 2012.6 155.0 2013.5 162.9C2014.4 170.8 2015.4 178.4 2016.4 186.7C2017.4 195.0 2018.3 206.4 2019.3 212.5C2020.3 218.6 2021.2 220.9 2022.2 223.5C2023.2 226.1 2023.9 227.9 2025.0 228.0C2026.1 228.1 2027.4 226.2 2028.6 224.0C2029.8 221.8 2030.6 217.4 2032.0 215.0C2033.4 212.6 2035.1 211.0 2036.9 209.5C2038.7 208.0 2040.9 208.0 2042.9 206.0C2044.9 204.0 2046.7 201.4 2048.8 197.6C2050.9 193.8 2053.8 188.9 2055.7 183.1C2057.6 177.3 2058.9 170.2 2060.5 162.9C2062.1 155.6 2063.6 146.9 2065.2 139.0C2066.8 131.1 2068.4 122.7 2070.0 115.2C2071.6 107.7 2073.2 99.5 2074.8 93.8C2076.4 88.0 2077.5 84.1 2079.5 80.7C2081.5 77.3 2083.9 75.6 2086.7 73.6C2089.5 71.6 2093.0 70.0 2096.2 68.8C2099.4 67.6 2102.3 66.9 2105.7 66.4C2109.1 65.9 2112.8 65.7 2116.4 65.8C2120.0 65.9 2123.7 66.1 2127.1 67.0C2130.5 67.9 2133.5 69.5 2136.7 71.2C2139.9 72.9 2142.9 75.1 2146.2 77.1C2149.4 79.1 2154.5 82.3 2156.2 83.3"/>
</g>
<g stroke="#000" stroke-width="6" fill="none">
<line x1="263.0" y1="34.0" x2="263.0" y2="1469.0"/>
<line x1="260.0" y1="1439.0" x2="2158.0" y2="1439.0"/>
<line x1="232.5" y1="80.0" x2="263.0" y2="80.0"/>
<line x1="245.0" y1="187.8" x2="263.0" y2="187.8"/>
<line x1="232.5" y1="295.6" x2="263.0" y2="295.6"/>
<line x1="245.0" y1="403.4" x2="263.0" y2="403.4"/>
<line x1="232.5" y1="511.2" x2="263.0" y2="511.2"/>
<line x1="245.0" y1="619.0" x2="263.0" y2="619.0"/>
<line x1="232.5" y1="726.8" x2="263.0" y2="726.8"/>
<line x1="245.0" y1="834.6" x2="263.0" y2="834.6"/>
<line x1="232.5" y1="942.4" x2="263.0" y2="942.4"/>
<line x1="245.0" y1="1050.2" x2="263.0" y2="1050.2"/>
<line x1="232.5" y1="1158.0" x2="263.0" y2="1158.0"/>
<line x1="245.0" y1="1265.8" x2="263.0" y2="1265.8"/>
<line x1="232.5" y1="1373.6" x2="263.0" y2="1373.6"/>
<line x1="420.7" y1="1439.0" x2="420.7" y2="1455.0"/>
<line x1="578.4" y1="1439.0" x2="578.4" y2="1469.0"/>
<line x1="736.1" y1="1439.0" x2="736.1" y2="1455.0"/>
<line x1="893.8" y1="1439.0" x2="893.8" y2="1469.0"/>
<line x1="1051.5" y1="1439.0" x2="1051.5" y2="1455.0"/>
<line x1="1209.2" y1="1439.0" x2="1209.2" y2="1469.0"/>
<line x1="1366.9" y1="1439.0" x2="1366.9" y2="1455.0"/>
<line x1="1524.6" y1="1439.0" x2="1524.6" y2="1469.0"/>
<line x1="1682.3" y1="1439.0" x2="1682.3" y2="1455.0"/>
<line x1="1840.0" y1="1439.0" x2="1840.0" y2="1469.0"/>
<line x1="1997.7" y1="1439.0" x2="1997.7" y2="1455.0"/>
<line x1="2155.4" y1="1439.0" x2="2155.4" y2="1469.0"/>
</g>
<g font-size="76">
<text x="215.8" y="101.6" text-anchor="end">70</text>
<text x="215.8" y="317.2" text-anchor="end">60</text>
<text x="215.8" y="532.8" text-anchor="end">50</text>
<text x="215.8" y="748.4" text-anchor="end">40</text>
<text x="215.8" y="964.0" text-anchor="end">30</text>
<text x="215.8" y="1179.6" text-anchor="end">20</text>
<text x="215.8" y="1395.2" text-anchor="end">10</text>
<text x="261.5" y="1543.4" text-anchor="middle">3500</text>
<text x="576.9" y="1543.4" text-anchor="middle">3000</text>
<text x="892.3" y="1543.4" text-anchor="middle">2500</text>
<text x="1207.7" y="1543.4" text-anchor="middle">2000</text>
<text x="1523.1" y="1543.4" text-anchor="middle">1500</text>
<text x="1838.5" y="1543.4" text-anchor="middle">1000</text>
<text x="2153.9" y="1543.4" text-anchor="middle">500</text>
</g>
<text font-size="74.4" x="2183.0" y="1674.5" text-anchor="end">wave number/(wave/cm)</text>
<text font-size="74" letter-spacing="0.98" transform="translate(79.2 453.5) rotate(-90)" text-anchor="start">intensity/a.u.</text>
<rect x="360.8" y="1028.8" width="528.0" height="373.7" fill="#fff" stroke="#484848" stroke-width="3"/>
<line x1="389.0" y1="1087.5" x2="550.5" y2="1087.5" stroke="#ff0080" stroke-width="8"/>
<text font-size="73.3" x="565.5" y="1111.0">untreated</text>
<line x1="389.0" y1="1179.7" x2="550.5" y2="1179.7" stroke="#ff8000" stroke-width="8"/>
<text font-size="75" x="563.0" y="1201.7">100MPa</text>
<line x1="389.0" y1="1271.4" x2="550.5" y2="1271.4" stroke="#0000ff" stroke-width="8"/>
<text font-size="75" x="563.6" y="1294.4">200MPa</text>
<line x1="389.0" y1="1363.2" x2="550.5" y2="1363.2" stroke="#00ff00" stroke-width="8"/>
<text font-size="75" x="563.6" y="1386.6">300MPa</text>
<g font-size="69" text-anchor="middle">
<line x1="331.0" y1="642.9" x2="353.1" y2="715.6" stroke="#222" stroke-width="2.4"/><polygon points="320.5,608.5 322.4,645.6 339.6,640.3" fill="#000"/>
<text x="378.9" y="780.5">3435</text>
<line x1="635.7" y1="551.8" x2="657.8" y2="622.4" stroke="#222" stroke-width="2.4"/><polygon points="624.9,517.4 627.1,554.4 644.3,549.1" fill="#000"/>
<text x="662.3" y="697.2">2927</text>
<line x1="875.9" y1="497.4" x2="875.1" y2="535.0" stroke="#222" stroke-width="2.4"/><polygon points="876.7,461.4 866.9,497.2 884.9,497.6" fill="#000"/>
<text x="878.5" y="604.3">2519</text>
<line x1="1024.5" y1="904.8" x2="1093.6" y2="888.3" stroke="#222" stroke-width="2.4"/><polygon points="989.5,913.2 1026.6,913.6 1022.4,896.1" fill="#000"/>
<text x="1172.2" y="921.7">2355</text>
<line x1="1307.1" y1="575.0" x2="1254.4" y2="646.5" stroke="#222" stroke-width="2.4"/><polygon points="1328.5,546.0 1299.9,569.6 1314.4,580.3" fill="#000"/>
<text x="1264.7" y="702.8">1789</text>
<line x1="1579.5" y1="1395.5" x2="1653.9" y2="1336.0" stroke="#222" stroke-width="2.4"/><polygon points="1551.4,1418.0 1585.1,1402.5 1573.9,1388.5" fill="#000"/>
<text x="1681.9" y="1336.3">1473</text>
<line x1="1789.8" y1="376.5" x2="1789.3" y2="403.6" stroke="#222" stroke-width="2.4"/><polygon points="1790.5,340.5 1780.8,376.3 1798.8,376.7" fill="#000"/>
<text x="1806.0" y="469.5">1074</text>
<line x1="1952.1" y1="756.8" x2="1988.5" y2="811.8" stroke="#222" stroke-width="2.4"/><polygon points="1932.2,726.8 1944.6,761.8 1959.6,751.8" fill="#000"/>
<text x="2012.2" y="872.7">864</text>
<line x1="2044.3" y1="317.4" x2="2087.4" y2="382.1" stroke="#222" stroke-width="2.4"/><polygon points="2024.3,287.4 2036.8,322.3 2051.8,312.4" fill="#000"/>
<text x="2106.6" y="454.2">707</text>
</g>
</svg></body></html>
